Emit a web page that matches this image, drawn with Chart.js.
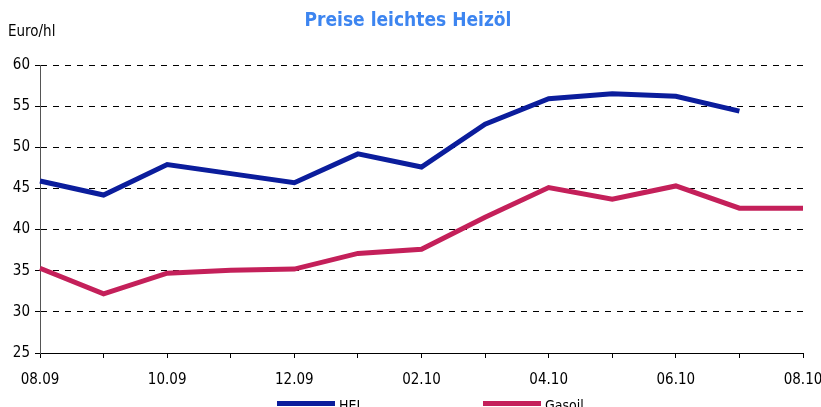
<!DOCTYPE html>
<html>
<head>
<meta charset="utf-8">
<script src="https://cdn.jsdelivr.net/npm/chart.js@4/dist/chart.umd.min.js"></script>
<style>
  body { margin: 0; background: #fff; }
</style>
</head>
<body>
<canvas id="myChart" width="821" height="407"></canvas>
<script>
let months = ['08.09', '09.09', '10.09', '11.09', '12.09', '01.10', '02.10',
              '03.10', '04.10', '05.10', '06.10', '07.10', '08.10'];
let helValues = [45.9, 44.2, 47.9, 46.8, 45.7, 49.2, 47.6, 52.8, 55.9, 56.5, 56.2, 54.4, null];
let gasoilValues = [35.3, 32.2, 34.7, 35.05, 35.2, 37.1, 37.6, 41.5, 45.1, 43.7, 45.3, 42.6, 42.6];
let yTicks = [25, 30, 35, 40, 45, 50, 55, 60];

let fontFam = "'Liberation Sans Narrow', 'DejaVu Sans Condensed', 'Liberation Sans', sans-serif";

// title, unit label and legend drawn by hand
let decor = {
    id: 'decor',
    afterDraw(chart) {
        let ctx = chart.ctx;
        ctx.save();
        ctx.fillStyle = '#3d85f0';
        ctx.font = "bold 19px " + fontFam;
        ctx.textAlign = 'center';
        ctx.textBaseline = 'middle';
        ctx.fillText('Preise leichtes Heizöl', 408, 21);

        ctx.fillStyle = '#000';
        ctx.font = "15px " + fontFam;
        ctx.textAlign = 'left';
        ctx.fillText('Euro/hl', 8, 32);

        let items = [[277, chart.data.datasets[0]], [483, chart.data.datasets[1]]];
        items.forEach(([x, ds]) => {
            ctx.fillStyle = ds.borderColor;
            ctx.fillRect(x, 401, 58, 5);
            ctx.fillStyle = '#000';
            ctx.font = "14px " + fontFam;
            ctx.fillText(ds.label, x + 62, 406);
        });
        ctx.restore();
    }
};

new Chart(document.getElementById('myChart'), {
    type: 'line',
    data: {
        labels: months,
        datasets: [{
            label: 'HEL',
            data: helValues,
            borderColor: '#0b1d9c',
            borderWidth: 5,
            pointRadius: 0,
            tension: 0,
            spanGaps: false
        },
        {
            label: 'Gasoil',
            data: gasoilValues,
            borderColor: '#c4205a',
            borderWidth: 5,
            pointRadius: 0,
            tension: 0
        }]
    },
    options: {
        responsive: false,
        animation: false,
        layout: { padding: { top: 65, right: 18, left: 0, bottom: 0 } },
        plugins: {
            legend: { display: false },
            title: { display: false },
            tooltip: { enabled: false }
        },
        scales: {
            x: {
                offset: false,
                grid: { drawOnChartArea: false, drawTicks: true, tickLength: 5, color: '#000' },
                border: { display: true, color: '#000', width: 1 },
                ticks: {
                    autoSkip: false,
                    maxRotation: 0,
                    padding: 13,
                    color: '#000',
                    font: { family: fontFam, size: 15 },
                    callback: function(v, i) { return i % 2 === 0 ? months[i] : ''; }
                },
                afterFit: function(s) {
                    s.height = 54;
                    s.paddingLeft = 0;
                    s.paddingRight = 0;
                }
            },
            y: {
                min: 25,
                max: 60,
                afterBuildTicks: function(s) { s.ticks = yTicks.map(v => ({ value: v })); },
                grid: { color: '#000', lineWidth: 1, tickLength: 5 },
                border: { display: true, color: '#555', width: 1, dash: [6, 6] },
                ticks: {
                    padding: 5,
                    color: '#000',
                    font: { family: fontFam, size: 15 }
                },
                afterFit: function(s) {
                    s.width = 40;
                    s.paddingTop = 0;
                    s.paddingBottom = 0;
                }
            }
        }
    },
    plugins: [decor]
});
</script>
</body>
</html>
